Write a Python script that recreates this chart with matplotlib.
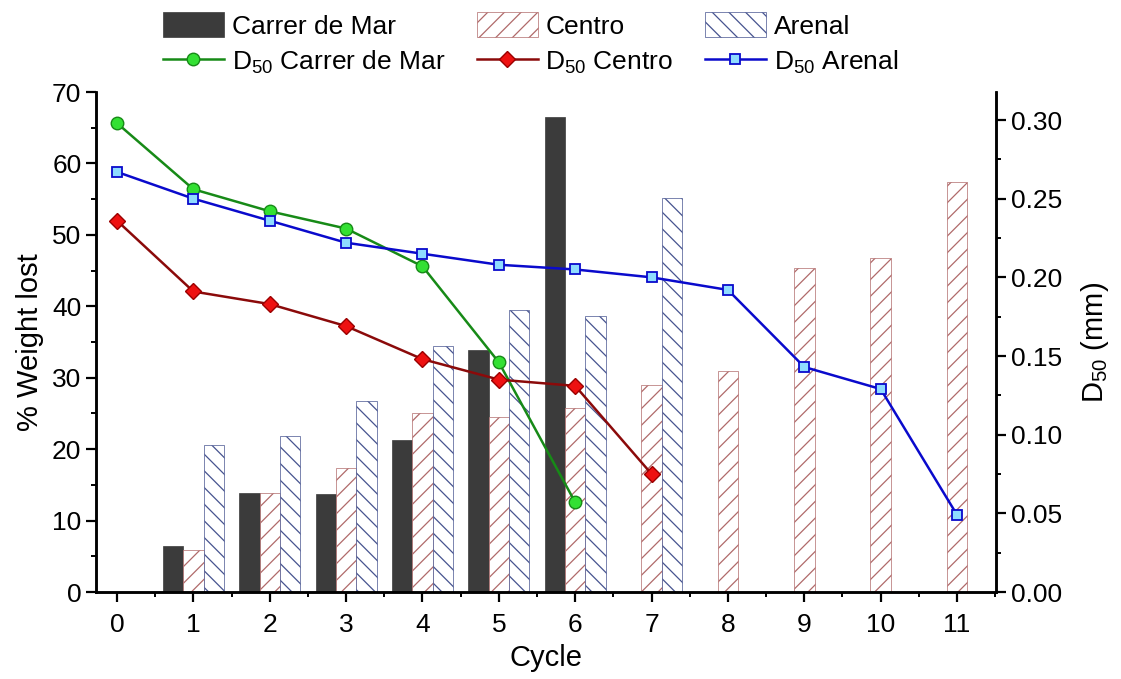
import numpy as np
import matplotlib
matplotlib.use("Agg")
import matplotlib.pyplot as plt
from matplotlib.ticker import MultipleLocator

plt.rcParams['font.family'] = ['Liberation Sans', 'DejaVu Sans']
plt.rcParams['mathtext.fontset'] = 'custom'
plt.rcParams['mathtext.rm'] = 'Liberation Sans'
plt.rcParams['mathtext.it'] = 'Liberation Sans:italic'
plt.rcParams['hatch.linewidth'] = 0.9

# ---- data ----
cycles = np.arange(12)

# % weight lost (bars)
cdm_cycles = [1, 2, 3, 4, 5, 6]
cdm_weight = [6.5, 13.8, 13.7, 21.3, 33.9, 66.5]
centro_cycles = [1, 2, 3, 4, 5, 6, 7, 8, 9, 10, 11]
centro_weight = [5.9, 13.8, 17.3, 25.0, 24.5, 25.7, 29.0, 30.9, 45.3, 46.7, 57.4]
arenal_cycles = [1, 2, 3, 4, 5, 6, 7]
arenal_weight = [20.6, 21.8, 26.8, 34.5, 39.5, 38.7, 55.1]

# D50 (mm) (lines)
cdm_d50_cycles = [0, 1, 2, 3, 4, 5, 6]
cdm_d50 = [0.298, 0.256, 0.242, 0.231, 0.207, 0.146, 0.057]
centro_d50_cycles = [0, 1, 2, 3, 4, 5, 6, 7]
centro_d50 = [0.236, 0.191, 0.183, 0.169, 0.148, 0.135, 0.131, 0.075]
arenal_d50_cycles = [0, 1, 2, 3, 4, 5, 6, 7, 8, 9, 10, 11]
arenal_d50 = [0.267, 0.250, 0.236, 0.222, 0.215, 0.208, 0.205, 0.200, 0.192, 0.143, 0.129, 0.049]

W, H = 1121, 679
fig = plt.figure(figsize=(W/100, H/100), dpi=100)
ax = fig.add_axes([96/W, 1-592/H, 900/W, 500/H])
ax2 = ax.twinx()

bw = 0.267
b1 = ax.bar(np.array(cdm_cycles)-bw, cdm_weight, width=bw, color='#3b3b3b',
            edgecolor='#3b3b3b', lw=0.5, label='Carrer de Mar')
b2 = ax.bar(np.array(centro_cycles), centro_weight, width=bw, color='white',
            edgecolor='#b06a6a', hatch='//', lw=0.5, label='Centro')
b3 = ax.bar(np.array(arenal_cycles)+bw, arenal_weight, width=bw, color='white',
            edgecolor='#46538f', hatch='\\\\', lw=0.5, label='Arenal')

l1, = ax2.plot(cdm_d50_cycles, cdm_d50, color='#178a17', lw=1.8, marker='o',
               ms=9, mfc='#33e033', mec='#178a17', mew=1.0,
               label=r'D$_{50}$ Carrer de Mar')
l2, = ax2.plot(centro_d50_cycles, centro_d50, color='#8b0a0a', lw=1.8, marker='D',
               ms=8, mfc='#ee1111', mec='#9b0000', mew=1.0,
               label=r'D$_{50}$ Centro')
l3, = ax2.plot(arenal_d50_cycles, arenal_d50, color='#0a0acc', lw=1.8, marker='s',
               ms=7.5, mfc='#8fdcff', mec='#0a0acc', mew=1.3,
               label=r'D$_{50}$ Arenal')

ax.set_xlim(-0.275, 11.51)
ax.set_ylim(0, 70)
ax2.set_ylim(0, 0.3178)
ax.set_xticks(cycles)
ax.xaxis.set_minor_locator(MultipleLocator(0.5))
ax.yaxis.set_major_locator(MultipleLocator(10))
ax.yaxis.set_minor_locator(MultipleLocator(5))
ax2.yaxis.set_major_locator(MultipleLocator(0.05))
ax2.yaxis.set_minor_locator(MultipleLocator(0.025))
ax2.yaxis.set_major_formatter(plt.FormatStrFormatter('%.2f'))

for a in (ax, ax2):
    a.spines['top'].set_visible(False)
    for s in a.spines.values():
        s.set_linewidth(1.8)
    a.tick_params(which='major', direction='out', length=7, width=1.6, labelsize=19)
    a.tick_params(which='minor', direction='out', length=3.5, width=1.4)
ax.tick_params(axis='x', which='major', pad=8)

ax.set_xlabel('Cycle', fontsize=21, labelpad=5)
ax.set_ylabel('% Weight lost', fontsize=21, labelpad=6)
ax2.set_ylabel(r'D$_{50}$ (mm)', fontsize=21, labelpad=12)

handles = [b1, l1, b2, l2, b3, l3]
labels = [h.get_label() for h in handles]
fig.legend(handles, labels, ncol=3, loc='upper left',
           bbox_to_anchor=(163/W, 1-12/H), frameon=False, fontsize=19,
           handlelength=2.3, handleheight=1.1, handletextpad=0.3,
           columnspacing=1.2, labelspacing=0.35, borderpad=0, borderaxespad=0)

fig.savefig('out.png', dpi=100)
